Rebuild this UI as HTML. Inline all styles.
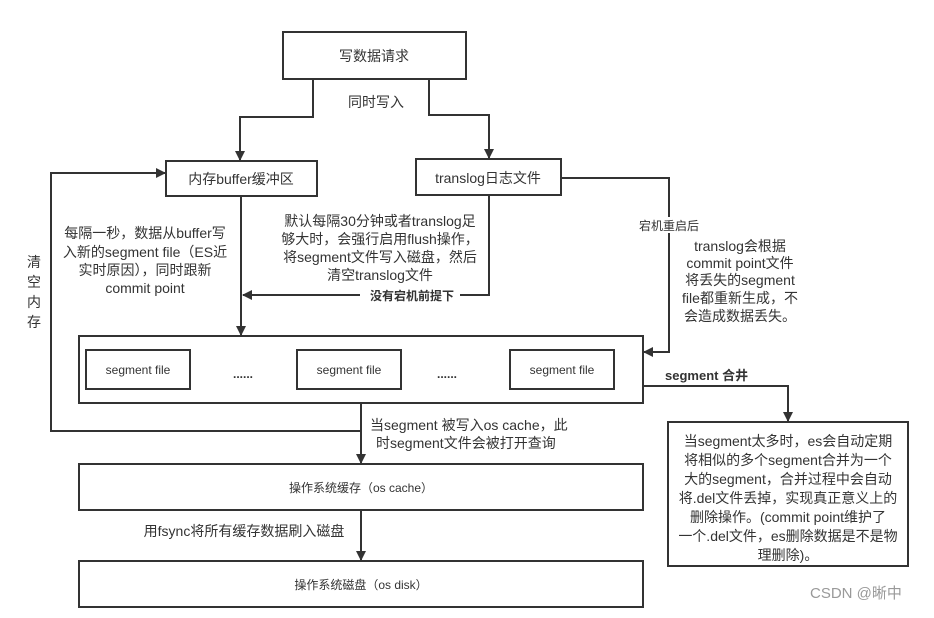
<!DOCTYPE html>
<html><head><meta charset="utf-8"><style>
html,body{margin:0;padding:0;background:#fff;}
svg text{font-family:"Liberation Sans","Noto Sans CJK SC",sans-serif;fill:#333;}
</style></head><body>
<svg width="934" height="613" viewBox="0 0 934 613" xmlns="http://www.w3.org/2000/svg">
<defs><marker id="a" markerWidth="10" markerHeight="10" refX="9" refY="5" orient="auto" markerUnits="userSpaceOnUse"><path d="M0,0 L10,5 L0,10 z" fill="#333"/></marker></defs>
<g fill="none" stroke="#333" stroke-width="2">
<rect x="283" y="32" width="183" height="47" fill="#fff"/>
<rect x="166" y="161" width="151" height="35" fill="#fff"/>
<rect x="416" y="159" width="145" height="36" fill="#fff"/>
<rect x="79" y="336" width="564" height="67"/>
<rect x="86" y="350" width="104" height="39"/>
<rect x="297" y="350" width="104" height="39"/>
<rect x="510" y="350" width="104" height="39"/>
<rect x="79" y="464" width="564" height="46"/>
<rect x="79" y="561" width="564" height="46"/>
<rect x="668" y="422" width="240" height="144"/>
<path d="M313 79 V117 H240 V160" marker-end="url(#a)"/>
<path d="M429 79 V115 H489 V158" marker-end="url(#a)"/>
<path d="M241 196 V335" marker-end="url(#a)"/>
<path d="M489 195 V295 H243" marker-end="url(#a)"/>
<path d="M561 178 H669 V352 H644" marker-end="url(#a)"/>
<path d="M643 386 H788 V421" marker-end="url(#a)"/>
<path d="M361 403 V463" marker-end="url(#a)"/>
<path d="M361 431 H51 V173 H165" marker-end="url(#a)"/>
<path d="M361 510 V560" marker-end="url(#a)"/>
</g>
<rect x="360" y="288" width="100" height="14" fill="#fff"/>
<rect x="636" y="217" width="66" height="16" fill="#fff"/>
<g font-size="14" text-anchor="middle">
<text x="374" y="61">写数据请求</text>
<text x="376" y="107">同时写入</text>
<text x="241" y="184">内存buffer缓冲区</text>
<text x="488" y="183">translog日志文件</text>
<text x="145" y="238">每隔一秒，数据从buffer写</text>
<text x="145" y="257">入新的segment file（ES近</text>
<text x="145" y="275">实时原因），同时跟新</text>
<text x="145" y="293">commit point</text>
<text x="380" y="226">默认每隔30分钟或者translog足</text>
<text x="380" y="244">够大时，会强行启用flush操作，</text>
<text x="380" y="262">将segment文件写入磁盘，然后</text>
<text x="380" y="280">清空translog文件</text>
<text x="34" y="267">清</text><text x="34" y="287">空</text><text x="34" y="307">内</text><text x="34" y="327">存</text>
<text x="740" y="251">translog会根据</text>
<text x="740" y="268">commit point文件</text>
<text x="740" y="285">将丢失的segment</text>
<text x="740" y="303">file都重新生成，不</text>
<text x="740" y="321">会造成数据丢失。</text>
<text x="788" y="446">当segment太多时，es会自动定期</text>
<text x="788" y="465">将相似的多个segment合并为一个</text>
<text x="788" y="484">大的segment，合并过程中会自动</text>
<text x="788" y="503">将.del文件丢掉，实现真正意义上的</text>
<text x="788" y="522">删除操作。(commit point维护了</text>
<text x="788" y="541">一个.del文件，es删除数据是不是物</text>
<text x="788" y="560">理删除)。</text>
<text x="244" y="536">用fsync将所有缓存数据刷入磁盘</text>
</g>
<g font-size="14">
<text x="370" y="430">当segment 被写入os cache，此</text>
<text x="376" y="448">时segment文件会被打开查询</text>
</g>
<g font-size="12" text-anchor="middle">
<text x="412" y="300" font-weight="bold">没有宕机前提下</text>
<text x="669" y="230">宕机重启后</text>
<text x="138" y="374">segment file</text>
<text x="349" y="374">segment file</text>
<text x="562" y="374">segment file</text>
<text x="243" y="378" font-weight="bold">......</text>
<text x="447" y="378" font-weight="bold">......</text>
<text x="361" y="492">操作系统缓存（os cache）</text>
<text x="361" y="589">操作系统磁盘（os disk）</text>
</g>
<text x="665" y="380" font-size="13" font-weight="bold">segment 合井</text>
<text x="810" y="598" font-size="15" style="fill:#999">CSDN @晰中</text>
</svg>
</body></html>
